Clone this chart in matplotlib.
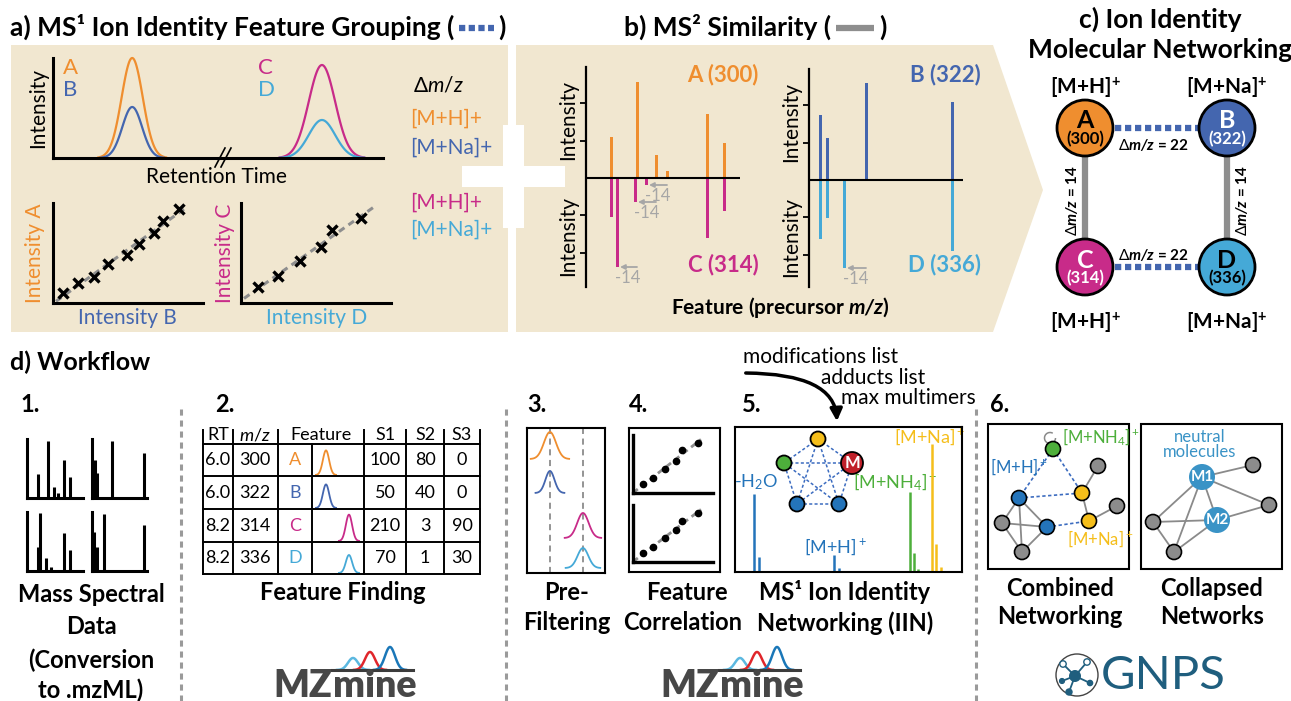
import numpy as np
import matplotlib.pyplot as plt
from matplotlib.patches import Rectangle, Polygon, Circle, FancyArrowPatch, Arc

plt.rcParams['font.family'] = ['Lato', 'DejaVu Sans']
plt.rcParams['mathtext.fontset'] = 'custom'
plt.rcParams['mathtext.rm'] = 'Lato'
plt.rcParams['mathtext.it'] = 'Lato:italic'
plt.rcParams['mathtext.bf'] = 'Lato:bold'
plt.rcParams['mathtext.bfit'] = 'Lato:bold:italic'
plt.rcParams['mathtext.fallback'] = 'stixsans'

W, H = 1291, 701

ORANGE = '#EF8E2F'
BLUE = '#4466AF'
MAGENTA = '#C82B89'
CYAN = '#45A9D7'
BEIGE = '#F1E7D0'
GREY = '#8E8E8E'
LIGHTGREY = '#A6A6A6'
NBLUE = '#2474BA'
NGREEN = '#4DAF3B'
NYELLOW = '#F5BE1A'
NRED = '#C0202A'
NGREY = '#8C8C8C'
MBLUE = '#3A93C6'

# ---------------- data ----------------
features = ['A', 'B', 'C', 'D']
feature_mz = [300, 322, 314, 336]
feature_rt = [6.0, 6.0, 8.2, 8.2]
feature_adduct = ['[M+H]', '[M+Na]', '[M+H]', '[M+Na]']
feature_colors = [ORANGE, BLUE, MAGENTA, CYAN]

# a) chromatograms
chrom_center = [2.4, 2.4, 8.15, 8.15]
chrom_height = [1.0, 0.51, 0.93, 0.38]
chrom_sigma = [0.32, 0.30, 0.40, 0.40]

# a) intensity correlation
int_b = [0.67, 1.67, 2.73, 3.67, 4.93, 5.73, 6.73, 7.33, 8.4]
int_a = [1.0, 2.0, 2.6, 3.9, 4.8, 5.9, 7.0, 8.2, 9.4]
int_d = [1.13, 2.47, 3.93, 5.33, 6.07, 8.0]
int_c = [1.6, 2.7, 4.2, 5.6, 7.3, 8.5]

# b) MS2 spectra (fragment position, intensity)
ms2_x_a = [25, 51, 70, 81, 121, 138]
ms2_i_a = [41, 96, 23, 7, 64, 35]
ms2_x_c = [25, 31, 49, 60, 121, 138]
ms2_i_c = [39, 89, 24, 7, 60, 33]
ms2_x_b = [11, 18, 57, 143]
ms2_i_b = [65, 42, 97, 78]
ms2_x_d = [11, 18, 35, 143]
ms2_i_d = [59, 38, 88, 71]

# d1) raw spectra
raw_pos = [[11, 21, 27, 31, 37, 43], [3, 5, 20, 52], [11, 13, 19, 24, 37, 43], [2, 5, 12, 52]]
raw_int = [[24, 57, 11, 5, 38, 21], [38, 25, 57, 45], [24, 58, 13, 4, 38, 21], [39, 24, 57, 46]]

# d2) feature table
table_header = ['RT', '$\\mathit{m/z}$', 'Feature', 'S1', 'S2', 'S3']
table_s1 = [100, 50, 210, 70]
table_s2 = [80, 40, 3, 1]
table_s3 = [0, 0, 90, 30]
table_peak_h = [0.82, 0.76, 0.85, 0.6]

# d3) pre-filtering traces
pre_height = [27, 22, 25, 20]
pre_offset = [114, 80, 35, 5]
pre_sigma = [0.40, 0.30, 0.38, 0.36]

# d4) feature correlation
corr_x = [10, 20, 32, 43, 49, 65]
corr_y1 = [9, 15, 24, 32, 43, 50]
corr_y2 = [9, 15, 24, 33, 42, 50]

# d5) MS1 spectrum with ion identities
iin_x = [19, 24, 99, 104, 175, 179, 183, 197, 201, 206]
iin_h = [78, 15, 17, 4, 80, 19, 3, 128, 28, 5]
iin_c = [NBLUE] * 4 + [NGREEN] * 3 + [NYELLOW] * 3
iin_params = ['modifications list', 'adducts list', 'max multimers']

# ---------------- figure ----------------
fig = plt.figure(figsize=(W / 100, H / 100), dpi=100)
ax = fig.add_axes([0, 0, 1, 1])
ax.set_xlim(0, W)
ax.set_ylim(H, 0)
ax.axis('off')

TITLE = 19
LABEL = 17


def inset(x0, y0, x1, y1, left=False, bottom=False, box=False, lw=2.2):
    a = fig.add_axes([x0 / W, 1 - y1 / H, (x1 - x0) / W, (y1 - y0) / H])
    a.patch.set_alpha(0)
    for side, s in a.spines.items():
        s.set_visible(box or (side == 'left' and left) or (side == 'bottom' and bottom))
        s.set_linewidth(lw)
    a.set_xticks([])
    a.set_yticks([])
    return a


def txt(x, y, s, size=14, color='black', weight='normal', ha='center', va='center', **kw):
    ax.text(x, y, s, fontsize=size, color=color, fontweight=weight, ha=ha, va=va, zorder=5, **kw)


def gauss(c, s, h, n=3.2):
    t = np.linspace(c - n * s, c + n * s, 120)
    return t, h * np.exp(-0.5 * ((t - c) / s) ** 2)


# ---------------- backgrounds ----------------
ax.add_patch(Rectangle((11, 45), 497, 287, color=BEIGE, lw=0))
ax.add_patch(Polygon([(516, 45), (993, 45), (1043, 190), (993, 332), (516, 332)],
                     closed=True, color=BEIGE, lw=0))
ax.add_patch(Rectangle((503, 125), 21, 103, color='white', lw=0))
ax.add_patch(Rectangle((462, 166), 103, 21, color='white', lw=0))

# ---------------- panel a ----------------
txt(454, 27, 'a) MS¹ Ion Identity Feature Grouping (', TITLE, weight='bold', ha='right')
ax.plot([459, 494], [28, 28], color=BLUE, lw=4.5, ls=(0, (1, 0.55)), dash_capstyle='butt')
txt(498, 27, ')', TITLE, weight='bold', ha='left')

ca = inset(53, 58, 383, 158, left=True, bottom=True)
ca.set_xlim(0, 10)
ca.set_ylim(0, 1)
for c, h, s, col in zip(chrom_center, chrom_height, chrom_sigma, feature_colors):
    t, y = gauss(c, s, h)
    ca.plot(t, y, color=col, lw=1.6, clip_on=False)
ax.plot([215, 225], [167, 148], color='black', lw=1.2)
ax.plot([221, 231], [167, 148], color='black', lw=1.2)
txt(38, 108, 'Intensity', 15, rotation=90)
txt(216, 177, 'Retention Time', 15)
for i, (x, y) in enumerate([(63, 68), (63, 90), (258, 68), (258, 90)]):
    txt(x, y, features[i], 16, color=feature_colors[i], ha='left')

for (x0, y0, x1, y1), xs, ys in [((53, 203, 203, 303), int_b, int_a),
                                  ((241, 203, 391, 303), int_d, int_c)]:
    sa = inset(x0, y0, x1, y1, left=True, bottom=True)
    sa.set_xlim(0, 10)
    sa.set_ylim(0, 10)
    k, b = np.polyfit(xs, ys, 1)
    xx = np.array([0.2, 8.9])
    sa.plot(xx, k * xx + b, color=GREY, lw=2.2, ls=(0, (2.2, 1.6)), zorder=1)
    sa.plot(xs, ys, 'x', color='black', ms=6.5, mew=2.4, zorder=3)
txt(35, 253, 'Intensity A', 15, color=ORANGE, rotation=90)
txt(127, 318, 'Intensity B', 15, color=BLUE)
txt(225, 253, 'Intensity C', 15, color=MAGENTA, rotation=90)
txt(317, 318, 'Intensity D', 15, color=CYAN)

txt(413, 85, r'$\Delta\mathit{m/z}$', 15, ha='left')
for y, i in zip([119, 148, 203, 230], [0, 1, 2, 3]):
    txt(410, y, feature_adduct[i] + '+', 15, color=feature_colors[i], ha='left')

# ---------------- panel b ----------------
txt(831, 27, 'b) MS² Similarity (', TITLE, weight='bold', ha='right')
ax.plot([836, 874], [28, 28], color=GREY, lw=4.5, solid_capstyle='butt')
txt(879, 27, ')', TITLE, weight='bold', ha='left')


def ms2_panel(x0, y0, x1, y1, base, tx, ti, bx, bi, tcol, bcol, shift):
    sa = inset(x0, y0, x1, y1, left=True, lw=1.6)
    sa.set_xlim(0, x1 - x0)
    sa.set_ylim(-(y1 - base), base - y0)
    sa.axhline(0, color='black', lw=1.5, zorder=3)
    sa.bar(tx, ti, width=3, color=tcol, zorder=2)
    sa.bar(bx, [-v for v in bi], width=3, color=bcol, zorder=2)
    sa.set_yticks([-75, -37, 37, 75])
    sa.set_yticklabels([])
    sa.tick_params(axis='y', direction='out', length=4, width=1.3)
    for i in range(len(tx)):
        if tx[i] != bx[i]:
            yv = -bi[i]
            sa.annotate('', xy=(bx[i] + 3, yv), xytext=(tx[i], yv),
                        arrowprops=dict(arrowstyle='-|>', color=LIGHTGREY, lw=1.3,
                                        mutation_scale=7, shrinkA=0, shrinkB=0))
            sa.text((tx[i] + bx[i]) / 2 + 1, yv - 11, shift, color=LIGHTGREY,
                    fontsize=12, ha='center', va='center')


shift_ac = '-%d' % (feature_mz[2] - feature_mz[0])
shift_bd = '-%d' % (feature_mz[3] - feature_mz[1])
ms2_panel(586, 67, 740, 287, 178, ms2_x_a, ms2_i_a, ms2_x_c, ms2_i_c, ORANGE, MAGENTA, shift_ac)
ms2_panel(809, 69, 963, 287, 180, ms2_x_b, ms2_i_b, ms2_x_d, ms2_i_d, BLUE, CYAN, shift_bd)
for i, (x, y) in enumerate([(723, 75), (945, 75), (723, 265), (945, 265)]):
    txt(x, y, '%s (%d)' % (features[i], feature_mz[i]), 16, color=feature_colors[i], weight='bold')
for x, y in [(568, 120), (568, 236), (791, 122), (791, 237)]:
    txt(x, y, 'Intensity', 15, rotation=90)
txt(780, 307, r'Feature (precursor $\mathbfit{m/z}$)', 15, weight='bold')

# ---------------- panel c ----------------
txt(1160, 19, 'c) Ion Identity', TITLE, weight='bold')
txt(1160, 50, 'Molecular Networking', TITLE, weight='bold')
node_xy = {'A': (1085, 128), 'B': (1227, 128), 'C': (1085, 267), 'D': (1227, 267)}
node_text = ['black', 'white', 'white', 'black']
for p, q in [('A', 'C'), ('B', 'D')]:
    (x0, y0), (x1, y1) = node_xy[p], node_xy[q]
    ax.plot([x0, x1], [y0, y1], color=GREY, lw=4.5, zorder=2)
    d = feature_mz[features.index(q)] - feature_mz[features.index(p)]
    xl = x0 - 13 if p == 'A' else x0 + 15
    txt(xl, 200, r'$\Delta\mathbfit{m/z}$ = %d' % d, 11, weight='bold', rotation=90)
for p, q, yl in [('A', 'B', 145), ('C', 'D', 255)]:
    (x0, y0), (x1, y1) = node_xy[p], node_xy[q]
    ax.plot([x0, x1], [y0, y1], color=BLUE, lw=4.5, ls=(0, (1, 0.6)), dash_capstyle='butt', zorder=2)
    d = feature_mz[features.index(q)] - feature_mz[features.index(p)]
    txt(1153, yl, r'$\Delta\mathbfit{m/z}$ = %d' % d, 11, weight='bold')
for i, f in enumerate(features):
    x, y = node_xy[f]
    ax.add_patch(Circle((x, y), 28, facecolor=feature_colors[i], edgecolor='black', lw=2, zorder=3))
    txt(x, y - 7, f, 18, color=node_text[i], weight='bold')
    txt(x, y + 11, '(%d)' % feature_mz[i], 12, color=node_text[i], weight='bold')
    ly = 88 if y < 200 else 323
    txt(x, ly, feature_adduct[i] + r'$^\mathbf{+}$', 15, weight='bold')

# ---------------- panel d ----------------
txt(10, 362, 'd) Workflow', 18, weight='bold', ha='left')
for x, s in [(20, '1.'), (215, '2.'), (527, '3.'), (629, '4.'), (742, '5.'), (990, '6.')]:
    txt(x, 405, s, LABEL, weight='bold', ha='left')
for x in [181, 506, 976]:
    ax.plot([x, x], [409, 701], color='#9A9A9A', lw=2.2, ls=(0, (2, 1.6)))

# step 1
boxes1 = [(27, 439, 83, 498), (92, 439, 147, 498), (27, 512, 83, 571), (92, 512, 147, 571)]
for (x0, y0, x1, y1), pos, hts in zip(boxes1, raw_pos, raw_int):
    sa = inset(x0, y0, x1, y1, left=True, bottom=True, lw=2.2)
    sa.set_xlim(0, x1 - x0)
    sa.set_ylim(0, y1 - y0)
    sa.vlines(pos, 0, hts, color='black', lw=2.2)
for y, s in [(595, 'Mass Spectral'), (627, 'Data'), (660, '(Conversion'), (690, 'to .mzML)')]:
    txt(91, y, s, LABEL, weight='bold')

# step 2 table
cols = [203, 233, 278, 312, 364, 406, 444, 480]
rows = [444, 476, 509, 542, 574]
for y in rows:
    ax.plot([cols[0], cols[-1]], [y, y], color='black', lw=1.4)
for x in cols:
    ax.plot([x, x], [444 if x == 312 else 430, 574], color='black', lw=1.4)
for x, s in zip([218, 255, 321, 385, 425, 462], table_header):
    txt(x, 435, s, 13)
row_c = [460, 493, 526, 558]
for i in range(4):
    y = row_c[i]
    txt(218, y, '%.1f' % feature_rt[i], 13)
    txt(255, y, '%d' % feature_mz[i], 13)
    txt(295, y, features[i], 13, color=feature_colors[i])
    txt(385, y, str(table_s1[i]), 13)
    txt(425, y, str(table_s2[i]), 13)
    txt(462, y, str(table_s3[i]), 13)
    pa = inset(312, rows[i] + 1, 364, rows[i + 1] - 1)
    pa.set_xlim(4.66, 9.64)
    pa.set_ylim(0, 1)
    t, yy = gauss(feature_rt[i], 0.3, table_peak_h[i])
    pa.plot(t, yy, color=feature_colors[i], lw=1.3)
txt(343, 592, 'Feature Finding', LABEL, weight='bold')


def mzmine(x, base):
    ax.text(x, base, 'MZ', fontsize=27, fontweight='heavy', color='#474747', ha='left', va='baseline')
    ax.text(x + 60, base, 'mine', fontsize=27, fontweight='heavy', color='#474747', ha='left', va='baseline')
    yl = base - 27
    for dx, h, col in [(80, 12, '#5BB8E0'), (97, 18, '#E0262B'), (117, 23, '#1A77B8')]:
        t, yy = gauss(x + dx, 5, h)
        ax.plot(t, yl - yy, color=col, lw=1.8)
    ax.plot([x + 59, x + 140], [yl, yl], color='#3C3C3C', lw=2.2)


mzmine(273, 697)
mzmine(660, 697)

# step 3
pa = inset(527, 428, 605, 573, box=True, lw=1.5)
pa.set_xlim(4.47, 9.67)
pa.set_ylim(0, 145)
for rt in sorted(set(feature_rt)):
    pa.axvline(rt, color='#777777', lw=1.1, ls=(0, (4, 3)))
for i in range(4):
    t, yy = gauss(feature_rt[i], pre_sigma[i], pre_height[i])
    pa.plot(t, yy + pre_offset[i], color=feature_colors[i], lw=1.3)
txt(567, 592, 'Pre-', LABEL, weight='bold')
txt(567, 623, 'Filtering', LABEL, weight='bold')

# step 4
inset(629, 428, 720, 572, box=True, lw=1.5)
for (y0, y1), cy in [((435, 493), corr_y1), ((505, 562), corr_y2)]:
    sa = inset(633, y0, 713, y1, left=True, bottom=True, lw=2.4)
    sa.set_xlim(0, 80)
    sa.set_ylim(0, 58)
    k, b = np.polyfit(corr_x, cy, 1)
    xx = np.array([0, 68])
    sa.plot(xx, k * xx + b, color=GREY, lw=2, ls=(0, (2.2, 1.6)), zorder=1, clip_on=False)
    sa.plot(corr_x, cy, 'o', color='black', ms=4.5, zorder=3)
txt(687, 592, 'Feature', LABEL, weight='bold')
txt(683, 623, 'Correlation', LABEL, weight='bold')

# step 5
sa = inset(735, 427, 962, 572, box=True, lw=1.5)
sa.set_xlim(0, 227)
sa.set_ylim(0, 145)
sa.vlines(iin_x, 0, iin_h, colors=iin_c, lw=1.8)
net5 = [(818, 439, NYELLOW, 7.5), (852, 463, NRED, 11), (839, 504, NBLUE, 7.5),
        (797, 504, NBLUE, 7.5), (784, 463, NGREEN, 7.5)]
for i in range(5):
    for j in range(i + 1, 5):
        ax.plot([net5[i][0], net5[j][0]], [net5[i][1], net5[j][1]], color='#3C6CC0',
                lw=1.1, ls=(0, (2, 1.5)), zorder=2)
for x, y, c, r in net5:
    ax.add_patch(Circle((x, y), r, facecolor=c, edgecolor='black', lw=1.3, zorder=3))
txt(852, 463, 'M', 12, color='white', weight='bold')
txt(756, 482, '-H$_2$O', 13, color=NBLUE)
txt(895, 482, '[M+NH$_4$]$^+$', 13, color=NGREEN)
txt(930, 437, '[M+Na]$^+$', 13, color=NYELLOW)
txt(835, 547, '[M+H]$^+$', 13, color=NBLUE)
for (x, y), s in zip([(743, 357), (821, 378), (841, 398)], iin_params):
    txt(x, y, s, 15, ha='left')
ax.add_patch(FancyArrowPatch((743, 373), (837, 424), connectionstyle='angle3,angleA=0,angleB=90',
                             arrowstyle='-|>', mutation_scale=18, lw=2.5, color='black', zorder=4))
txt(845, 592, 'MS¹ Ion Identity', LABEL, weight='bold')
txt(845, 623, 'Networking (IIN)', LABEL, weight='bold')

# step 6
for x0 in [988, 1141]:
    ax.add_patch(Rectangle((x0, 424), 141, 145, facecolor='none', edgecolor='black', lw=1.5, zorder=2))
comb = {'nh4': (1053, 449, NGREEN), 'h1': (1019, 498, NBLUE), 'h2': (1047, 527, NBLUE),
        'na1': (1082, 493, NYELLOW), 'na2': (1089, 521, NYELLOW), 'g1': (1098, 466, NGREY),
        'g2': (1117, 506, NGREY), 'g3': (1002, 523, NGREY), 'g4': (1022, 552, NGREY)}
for p, q in [('h1', 'g3'), ('h1', 'g4'), ('h1', 'h2'), ('g3', 'h2'), ('g4', 'h2'), ('g3', 'g4'),
             ('na1', 'g1'), ('na1', 'na2'), ('na2', 'g2')]:
    ax.plot([comb[p][0], comb[q][0]], [comb[p][1], comb[q][1]], color='#8A8A8A', lw=1.3, zorder=2)
for p, q in [('nh4', 'h1'), ('nh4', 'na1'), ('h1', 'na1'), ('h2', 'na2')]:
    ax.plot([comb[p][0], comb[q][0]], [comb[p][1], comb[q][1]], color='#3C6CC0', lw=1.2,
            ls=(0, (2, 1.5)), zorder=2)
ax.add_patch(Arc((1050, 438), 11, 11, theta1=0, theta2=300, color='#8A8A8A', lw=1.1, zorder=2))
for x, y, c in comb.values():
    ax.add_patch(Circle((x, y), 7.5, facecolor=c, edgecolor='black', lw=1.2, zorder=3))
txt(1062, 437, '[M+NH$_4$]$^+$', 12, color=NGREEN, ha='left')
txt(990, 467, '[M+H]$^+$', 12, color=NBLUE, ha='left')
txt(1067, 539, '[M+Na]$^+$', 12, color=NYELLOW, ha='left')

coll = {'M1': (1202, 477), 'M2': (1217, 520), 'g1': (1253, 465), 'g2': (1269, 505),
        'g3': (1153, 522), 'g4': (1174, 552)}
for p, q in [('M1', 'g1'), ('M1', 'g2'), ('M1', 'M2'), ('M1', 'g3'), ('M1', 'g4'),
             ('M2', 'g2'), ('M2', 'g3'), ('M2', 'g4'), ('g3', 'g4')]:
    ax.plot([coll[p][0], coll[q][0]], [coll[p][1], coll[q][1]], color='#8A8A8A', lw=1.3, zorder=2)
for k, (x, y) in coll.items():
    if k.startswith('M'):
        ax.add_patch(Circle((x, y), 13, facecolor=MBLUE, edgecolor='none', zorder=3))
        txt(x, y, k, 11, color='white', weight='bold')
    else:
        ax.add_patch(Circle((x, y), 7.5, facecolor=NGREY, edgecolor='black', lw=1.2, zorder=3))
txt(1200, 437, 'neutral', 12, color=MBLUE)
txt(1200, 452, 'molecules', 12, color=MBLUE)
txt(1060, 588, 'Combined', LABEL, weight='bold')
txt(1060, 617, 'Networking', LABEL, weight='bold')
txt(1212, 588, 'Collapsed', LABEL, weight='bold')
txt(1212, 617, 'Networks', LABEL, weight='bold')

# GNPS logo
GT = '#1F5E7E'
ax.add_patch(Circle((1077, 675), 21, facecolor='white', edgecolor='#444444', lw=1, zorder=3))
for (x, y, filled, r) in [(1063, 664, False, 3.2), (1087, 662, False, 3.2), (1090, 683, True, 2.6),
                          (1069, 692, True, 3), (1062, 681, True, 2.4)]:
    ax.plot([1075, x], [676, y], color=GT, lw=1.3, zorder=3)
    ax.add_patch(Circle((x, y), r, facecolor=GT if filled else 'white', edgecolor=GT, lw=1, zorder=4))
ax.add_patch(Circle((1075, 676), 6, facecolor=GT, edgecolor='none', zorder=4))
txt(1163, 676, 'GNPS', 34, color=GT)

fig.savefig('out.png', dpi=100)
